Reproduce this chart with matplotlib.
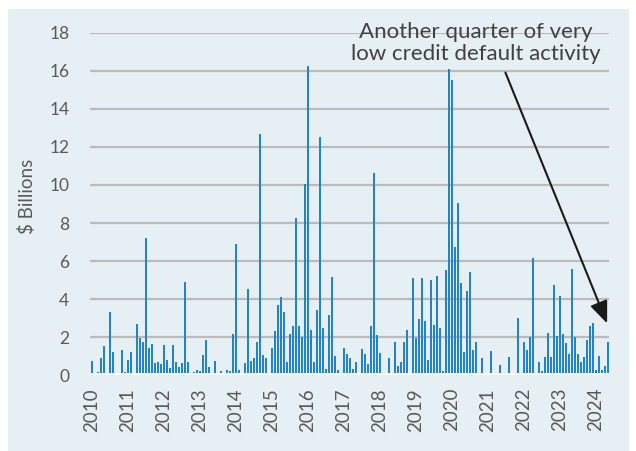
import numpy as np
import matplotlib.pyplot as plt
from matplotlib.patches import Rectangle

# monthly credit default volume, Jan 2010 .. May 2024 ($ billions)
defaults_2010 = [0.75, 0, 0.17, 0.93, 1.52, 0, 3.31, 1.22, 0, 0, 1.36, 0.17]
defaults_2011 = [0.79, 1.21, 0, 2.69, 1.94, 1.77, 7.19, 1.42, 1.64, 0.63, 0.68, 0.59]
defaults_2012 = [1.61, 0.79, 0.38, 1.59, 0.70, 0.44, 0.66, 4.92, 0.72, 0, 0.19, 0.26]
defaults_2013 = [0.23, 1.05, 1.87, 0.44, 0, 0.75, 0, 0.21, 0, 0.31, 0.23, 2.15]
defaults_2014 = [6.91, 0.26, 0, 0.65, 4.53, 0.77, 0.89, 1.73, 12.65, 1.08, 0.94, 0]
defaults_2015 = [1.42, 2.34, 3.67, 4.13, 3.31, 0.68, 2.20, 2.60, 8.28, 2.60, 2.02, 10.03]
defaults_2016 = [16.25, 2.41, 0.73, 3.45, 12.53, 2.48, 0.33, 3.17, 5.16, 1.00, 0.26, 0]
defaults_2017 = [1.42, 1.12, 0.90, 0.35, 0.73, 0, 1.38, 1.12, 0.58, 2.59, 10.60, 2.12]
defaults_2018 = [1.17, 0, 0, 0.94, 0, 1.78, 0.49, 0.70, 1.77, 2.36, 0, 5.11]
defaults_2019 = [1.94, 2.96, 5.09, 2.85, 0.80, 5.00, 2.64, 5.23, 2.50, 0.24, 5.53, 16.10]
defaults_2020 = [15.50, 6.75, 9.03, 4.85, 1.22, 4.44, 5.42, 1.36, 1.73, 0, 0.91, 0]
defaults_2021 = [0, 1.28, 0, 0, 0.56, 0, 0, 0.96, 0, 0, 3.01, 0]
defaults_2022 = [1.75, 1.33, 2.00, 6.14, 0, 0.70, 0.24, 0.96, 2.22, 0.96, 4.76, 2.06]
defaults_2023 = [4.16, 2.17, 1.71, 1.12, 5.58, 2.00, 1.12, 0.73, 0.96, 1.85, 2.62, 2.73]
defaults_2024 = [0.31, 1.03, 0.30, 0.52, 1.73]

years = list(range(2010, 2025))
values = (defaults_2010 + defaults_2011 + defaults_2012 + defaults_2013 + defaults_2014
          + defaults_2015 + defaults_2016 + defaults_2017 + defaults_2018 + defaults_2019
          + defaults_2020 + defaults_2021 + defaults_2022 + defaults_2023 + defaults_2024)

plt.rcParams['font.family'] = ['Lato', 'DejaVu Sans']

bg = '#E6EFF3'
fig = plt.figure(figsize=(6.36, 4.51), dpi=100, facecolor='white')
fig.patches.append(Rectangle((8 / 636, 0), 621 / 636, 442 / 451, transform=fig.transFigure,
                             facecolor=bg, edgecolor='none', zorder=-10))
ax = fig.add_axes([0.1418, 0.1676, 0.8161, 0.7603])
ax.set_facecolor('none')

x = np.arange(len(values))
ax.bar(x, values, width=0.6, color='#2383C6', zorder=2)

ax.set_xlim(-0.5, len(values) - 0.5)
ax.set_ylim(0, 18)
ax.set_yticks(range(0, 19, 2))
ax.yaxis.grid(True, color='#BBBBBB', linewidth=1.6, zorder=1)
ax.axhline(0, color='white', linewidth=3.5, zorder=3)

ax.set_xticks([12 * i for i in range(len(years))])
ax.set_xticklabels([str(y) for y in years], rotation=90)
ax.tick_params(axis='both', length=0, labelsize=12.5, colors='#595959')
ax.tick_params(axis='x', pad=9, labelsize=13.5)
ax.tick_params(axis='y', pad=15)
for s in ax.spines.values():
    s.set_visible(False)

ax.set_ylabel('$ Billions', fontsize=13.5, color='#595959')
ax.yaxis.set_label_coords(-0.105, 0.523)

ax.text(128, 17.45, 'Another quarter of very\nlow credit default activity',
        ha='center', va='center', fontsize=16, color='#404040', linespacing=1.12, zorder=4)
ax.annotate('', xy=(171.8, 2.73), xytext=(137.9, 15.9),
            arrowprops=dict(arrowstyle='-|>,head_length=1.35,head_width=0.55',
                            color='#1A1A1A', lw=1.5, shrinkA=0, shrinkB=0), zorder=4)

fig.savefig('out.png', dpi=100, facecolor='white')
